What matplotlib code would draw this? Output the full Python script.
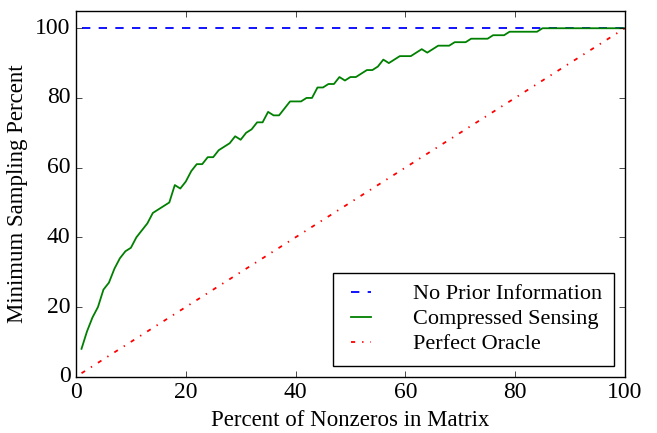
import numpy as np
import matplotlib
matplotlib.use("Agg")
import matplotlib.pyplot as plt

plt.style.use("classic")
plt.rcParams["font.family"] = "serif"
plt.rcParams["font.serif"] = ["Liberation Serif", "DejaVu Serif"]
plt.rcParams["mathtext.fontset"] = "stix"

# percent of nonzeros in the matrix
pct_nonzeros = list(range(1, 101))

# minimum sampling percent for each method
no_prior = [100] * 100
compressed = [8, 13, 17, 20, 25, 27, 31, 34, 36, 37,
              40, 42, 44, 47, 48, 49, 50, 55, 54, 56,
              59, 61, 61, 63, 63, 65, 66, 67, 69, 68,
              70, 71, 73, 73, 76, 75, 75, 77, 79, 79,
              79, 80, 80, 83, 83, 84, 84, 86, 85, 86,
              86, 87, 88, 88, 89, 91, 90, 91, 92, 92,
              92, 93, 94, 93, 94, 95, 95, 95, 96, 96,
              96, 97, 97, 97, 97, 98, 98, 98, 99, 99,
              99, 99, 99, 99] + [100] * 16
oracle = list(range(1, 101))

fig = plt.figure(figsize=(6.57, 4.33), dpi=100, facecolor="white")
ax = fig.add_axes([0.1157, 0.130, 0.8353, 0.845])

ax.plot(pct_nonzeros, no_prior, "b--", lw=1.3, label="No Prior Information")
ax.plot(pct_nonzeros, compressed, "g-", lw=1.3, label="Compressed Sensing")
ax.plot(pct_nonzeros, oracle, "r-.", lw=1.3, label="Perfect Oracle")

ax.set_xlim(0, 100)
ax.set_ylim(0, 105)
ax.set_yticks([0, 20, 40, 60, 80, 100])
ax.set_xlabel("Percent of Nonzeros in Matrix", fontsize=16.5)
ax.set_ylabel("Minimum Sampling Percent", fontsize=16.5)
ax.tick_params(labelsize=17)

leg = ax.legend(loc="lower right", fontsize=16, handlelength=1.5,
                handletextpad=1.6, labelspacing=0.2, borderaxespad=0.5,
                borderpad=0.5)
leg.get_frame().set_linewidth(1.0)

fig.savefig("out.png", dpi=100, facecolor="white")
